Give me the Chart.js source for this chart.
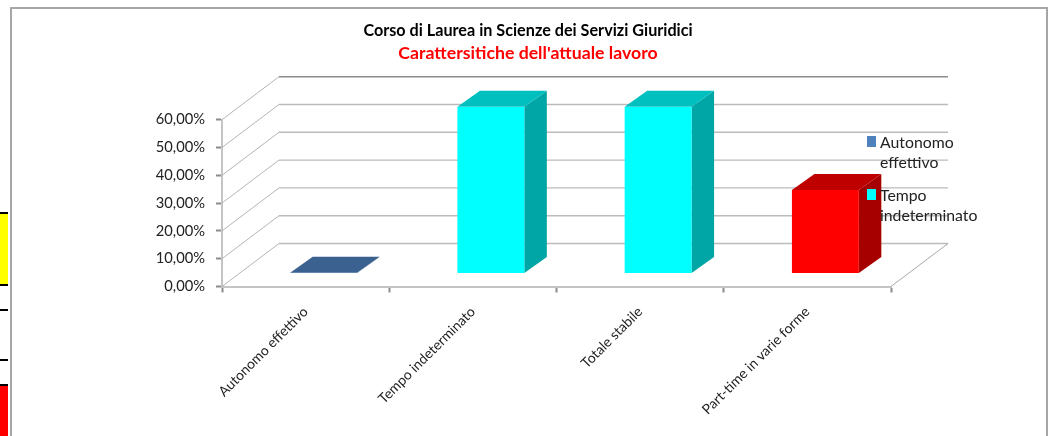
<!DOCTYPE html>
<html lang="it">
<head>
    <meta charset="UTF-8">
    <title>Carattersitiche dell'attuale lavoro</title>
    <script src="https://cdn.jsdelivr.net/npm/chart.js"></script>
    <style>
        html, body { margin: 0; padding: 0; background: #fff; overflow: hidden; width: 1050px; height: 436px; }
        .cell { position: absolute; left: 0; width: 8px; box-sizing: border-box; }
        #frame { position: absolute; left: 10px; top: 7px; width: 1038px; height: 440px; box-sizing: border-box; border: 2px solid #a6a6a6; }
        #chart { position: absolute; left: 11px; top: 8px; }
    </style>
</head>
<body>
    <div class="cell" style="top:212px;height:74px;background:#ff0;border-top:2px solid #000;border-bottom:2px solid #000"></div>
    <div class="cell" style="top:309px;height:2px;background:#000"></div>
    <div class="cell" style="top:359px;height:2px;background:#000"></div>
    <div class="cell" style="top:384px;height:52px;background:#f00;border-top:2px solid #000"></div>
    <div id="frame"></div>
    <canvas id="chart" width="1034" height="428"></canvas>

    <script>
        const titleText = 'Corso di Laurea in Scienze dei Servizi Giuridici';
        const subtitleText = "Carattersitiche dell'attuale lavoro";
        const categories = ['Autonomo effettivo', 'Tempo indeterminato', 'Totale stabile', 'Part-time in varie forme'];
        const values = [0.3, 60, 60, 30];
        const yTicks = [0, 10, 20, 30, 40, 50, 60];
        const legendLabels = [['Autonomo', 'effettivo'], ['Tempo', 'indeterminato']];

        const faceColors = ['#4f81bd', '#00ffff', '#00ffff', '#ff0000'];
        const sideColors = ['#2f4d71', '#00a5a5', '#00a5a5', '#a60000'];
        const topColors = ['#3b6190', '#00bfbf', '#00bfbf', '#bf0000'];
        const legendColors = ['#4f81bd', '#00ffff'];

        const fontName = 'Lato, "Open Sans", sans-serif';
        const wallX = 57, wallY = 43;   // depth of the 3d box
        const barShiftX = 18, barShiftY = 13;   // bars stand in the middle of the floor
        const barDepthX = 22.5, barDepthY = 16;
        const titleShift = 16.5;   // y axis is wider than the space the title is centred on

        const fake3d = {
            id: 'fake3d',
            afterLayout(chart) {
                chart.boxes.filter(b => b.position === 'top').forEach(b => {
                    b.left += titleShift;
                    b.right += titleShift;
                });
            },
            beforeDatasetsDraw(chart) {
                const ctx = chart.ctx;
                const y = chart.scales.y;
                const left = chart.chartArea.left, right = chart.chartArea.right;

                ctx.save();
                yTicks.forEach((t, i) => {
                    const py = y.getPixelForValue(t);
                    ctx.lineWidth = 1.4;
                    ctx.strokeStyle = i === yTicks.length - 1 ? '#8c8c8c' : '#bbbbbb';
                    ctx.beginPath();
                    ctx.moveTo(left + wallX, py - wallY);
                    ctx.lineTo(right + wallX, py - wallY);
                    ctx.stroke();
                    ctx.lineWidth = 1;
                    ctx.strokeStyle = '#b4b4b4';
                    ctx.beginPath();
                    ctx.moveTo(left, py);
                    ctx.lineTo(left + wallX, py - wallY);
                    ctx.stroke();
                });
                const floorY = y.getPixelForValue(0);
                ctx.strokeStyle = '#a8a8a8';
                ctx.beginPath();
                ctx.moveTo(right, floorY);
                ctx.lineTo(right + wallX, floorY - wallY);
                ctx.stroke();

                // side and top of every bar, front face is left to the library
                const bars = chart.getDatasetMeta(0).data;
                bars.forEach((bar, i) => {
                    const p = bar.getProps(['x', 'y', 'base', 'width'], true);
                    const l = p.x - p.width / 2 + barShiftX;
                    const r = p.x + p.width / 2 + barShiftX;
                    const t = p.y - barShiftY;
                    const b = p.base - barShiftY;
                    ctx.fillStyle = sideColors[i];
                    ctx.beginPath();
                    ctx.moveTo(r, t);
                    ctx.lineTo(r + barDepthX, t - barDepthY);
                    ctx.lineTo(r + barDepthX, b - barDepthY);
                    ctx.lineTo(r, b);
                    ctx.closePath();
                    ctx.fill();
                    ctx.fillStyle = topColors[i];
                    ctx.beginPath();
                    ctx.moveTo(l, t);
                    ctx.lineTo(l + barDepthX, t - barDepthY);
                    ctx.lineTo(r + barDepthX, t - barDepthY);
                    ctx.lineTo(r, t);
                    ctx.closePath();
                    ctx.fill();
                });
                ctx.restore();

                ctx.save();
                ctx.translate(barShiftX, -barShiftY);
            },
            afterDatasetsDraw(chart) {
                chart.ctx.restore();
            },
            afterDraw(chart) {
                // legend is cut short and wraps in the original, so it is drawn by hand
                const ctx = chart.ctx;
                ctx.save();
                ctx.font = '15.8px ' + fontName;
                ctx.textBaseline = 'middle';
                legendLabels.forEach((lines, i) => {
                    const top = 128 + i * 53;
                    ctx.fillStyle = legendColors[i];
                    ctx.fillRect(856, top, 9, 11);
                    ctx.fillStyle = '#222';
                    lines.forEach((line, j) => ctx.fillText(line, 869, top + 7 + j * 20));
                });
                ctx.restore();
            }
        };

        new Chart(document.getElementById('chart'), {
            type: 'bar',
            data: {
                labels: categories,
                datasets: [{
                    data: values,
                    backgroundColor: faceColors,
                    borderWidth: 0,
                    barPercentage: 1,
                    categoryPercentage: 0.4
                }]
            },
            plugins: [fake3d],
            options: {
                responsive: false,
                animation: false,
                layout: { padding: { left: 121, right: 154, top: 0, bottom: 0 } },
                plugins: {
                    legend: { display: false },
                    tooltip: { enabled: false },
                    title: {
                        display: true,
                        text: titleText,
                        color: '#000',
                        font: { family: fontName, size: 16.2, weight: 'bold' },
                        padding: { top: 13, bottom: 0 }
                    },
                    subtitle: {
                        display: true,
                        text: subtitleText,
                        color: '#ff0000',
                        font: { family: fontName, size: 17.7, weight: 'bold' },
                        padding: { top: 2, bottom: 56 }
                    }
                },
                scales: {
                    x: {
                        afterFit: s => { s.height = 149.5; },
                        border: { color: '#c4c4c4', width: 2, dash: [1, 1] },
                        grid: { drawOnChartArea: false, tickLength: 6, tickColor: '#8c8c8c', tickWidth: 2 },
                        ticks: {
                            color: '#222',
                            font: { family: fontName, size: 13.9 },
                            minRotation: 45,
                            maxRotation: 45,
                            padding: 11
                        }
                    },
                    y: {
                        min: 0,
                        max: 60,
                        afterFit: s => { s.width = 90; },
                        afterBuildTicks: s => { s.ticks = yTicks.map(v => ({ value: v })); },
                        border: { color: '#c4c4c4', width: 2, dash: [1, 1] },
                        grid: { drawOnChartArea: false, tickLength: 6, tickColor: '#8c8c8c', tickWidth: 2 },
                        ticks: {
                            color: '#222',
                            font: { family: fontName, size: 14.7 },
                            padding: 11,
                            callback: v => v.toFixed(2).replace('.', ',') + '%'
                        }
                    }
                }
            }
        });
    </script>
</body>
</html>
